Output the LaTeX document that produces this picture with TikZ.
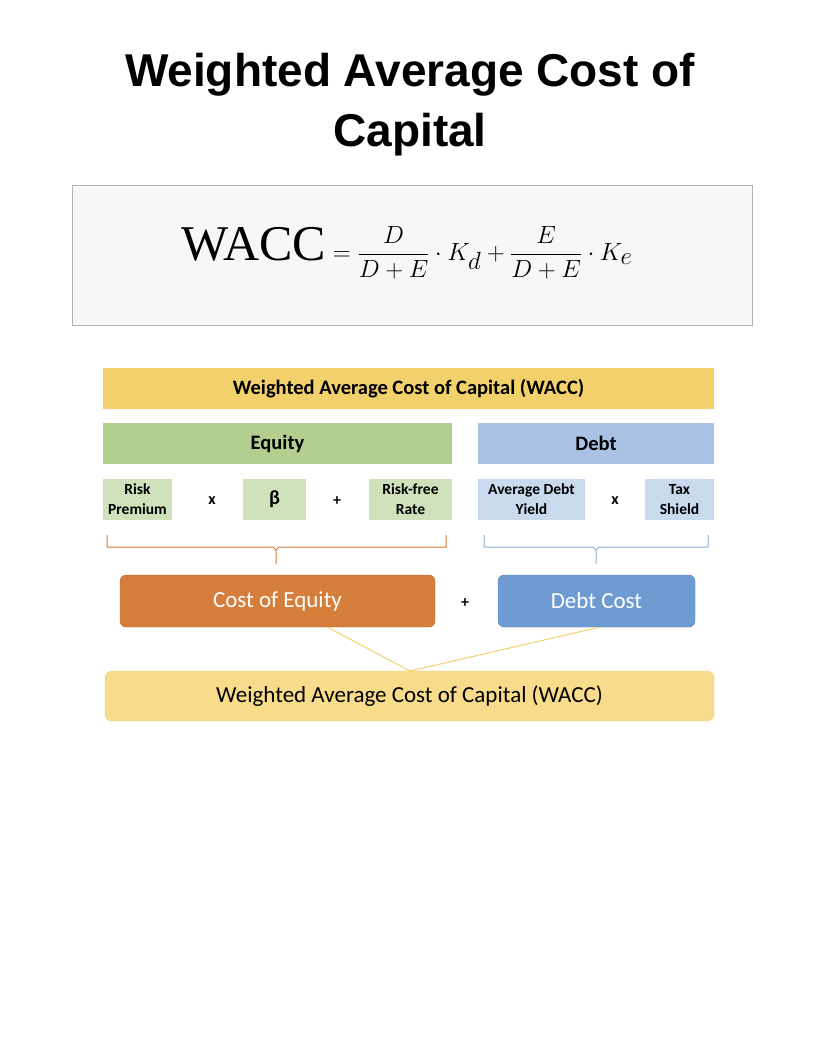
\documentclass[tikz,border=0pt]{standalone}
\usepackage{amsmath}
\usepackage{fontspec}
\setmainfont{Carlito}
\newfontfamily\titlefont{Liberation Sans}
\newfontfamily\serifw{Liberation Serif}
\definecolor{gold}{HTML}{F2D06B}
\definecolor{eqg}{HTML}{B3CF8F}
\definecolor{eqlg}{HTML}{CFE2BB}
\definecolor{dbb}{HTML}{A9C2E4}
\definecolor{dblb}{HTML}{C9D9EE}
\definecolor{org}{HTML}{D57D3B}
\definecolor{blu}{HTML}{6F9BD3}
\definecolor{lgold}{HTML}{F8DC8C}
\tikzset{
 bar/.style={minimum height=41pt,inner sep=0pt,font=\fontsize{20.5}{24}\selectfont\bfseries,text=black},
 sm/.style={minimum height=41pt,inner sep=0pt,align=center,font=\fontsize{15.5}{20}\selectfont\bfseries},
 op/.style={font=\fontsize{16}{18}\selectfont\bfseries},
 big/.style={rounded corners=6pt,minimum height=52pt,inner sep=0pt,text=white,font=\fontsize{23}{26}\selectfont},
}
\begin{document}
\begin{tikzpicture}[x=1pt,y=-1pt]
\useasboundingbox (0,0) rectangle (816,1056);
\node[font=\titlefont\fontsize{46}{60}\selectfont\bfseries,align=center] (title) at (410,105) {Weighted Average Cost of\\Capital};
\node[draw=black!30,fill=black!3,minimum width=680pt,minimum height=140pt,inner sep=0pt] (fbox) at (412,255) {};
\node (formula) at (407,253) {\fontsize{50}{60}\selectfont$\displaystyle\text{\serifw WACC}=\frac{D}{D+E}\cdot K_d+\frac{E}{D+E}\cdot K_e$};
\node[bar,fill=gold,minimum width=611pt] (top) at (408.5,388.5) {Weighted Average Cost of Capital (WACC)};
\node[bar,fill=eqg,minimum width=349pt] (eq) at (277.5,443.5) {Equity};
\node[bar,fill=dbb,minimum width=236pt] (debt) at (596,443.5) {Debt};
\node[sm,fill=eqlg,minimum width=69pt] (rp) at (137.5,499.5) {Risk\\Premium};
\node[sm,fill=eqlg,minimum width=63pt,font=\fontsize{20}{22}\selectfont\bfseries] (beta) at (274.5,499.5) {β};
\node[sm,fill=eqlg,minimum width=83pt] (rf) at (410.5,499.5) {Risk-free\\Rate};
\node[sm,fill=dblb,minimum width=107pt] (ady) at (531.5,499.5) {Average Debt\\Yield};
\node[sm,fill=dblb,minimum width=69pt] (ts) at (679.5,499.5) {Tax\\Shield};
\node[op] (o1) at (212,501) {x};
\node[op] (o2) at (337,501) {+};
\node[op] (o3) at (615,501) {x};
\coordinate (b1a) at (107,535); \coordinate (b1b) at (446,535);
\coordinate (b2a) at (484,535); \coordinate (b2b) at (708,535);
\draw[org,line width=1pt] (b1a) -- ++(0,12) -- ++(166,0) -- ++(3,3) -- ++(0,14) ++(0,-14) -- ++(3,-3) -- (b1b|-0,547) -- (b1b);
\draw[blu!80,line width=1pt] (b2a) -- ++(0,12) -- ++(109,0) -- ++(3,3) -- ++(0,14) ++(0,-14) -- ++(3,-3) -- (b2b|-0,547) -- (b2b);
\node[big,fill=org,draw=org!85!black,minimum width=315pt] (coe) at (277.5,601) {Cost of Equity};
\node[big,fill=blu,draw=blu!85!black,minimum width=197pt] (dc) at (596.5,601) {Debt Cost};
\node[op] (o4) at (465,603) {+};
\node[rounded corners=7pt,fill=lgold,draw=gold,minimum width=609pt,minimum height=50pt,font=\fontsize{23}{26}\selectfont] (wacc) at (409.5,696) {Weighted Average Cost of Capital (WACC)};
\coordinate (m) at (410,671);
\draw[gold,line width=1pt] ([xshift=50pt]coe.south) -- (m) -- ([xshift=3pt]dc.south);
\end{tikzpicture}
\end{document}
